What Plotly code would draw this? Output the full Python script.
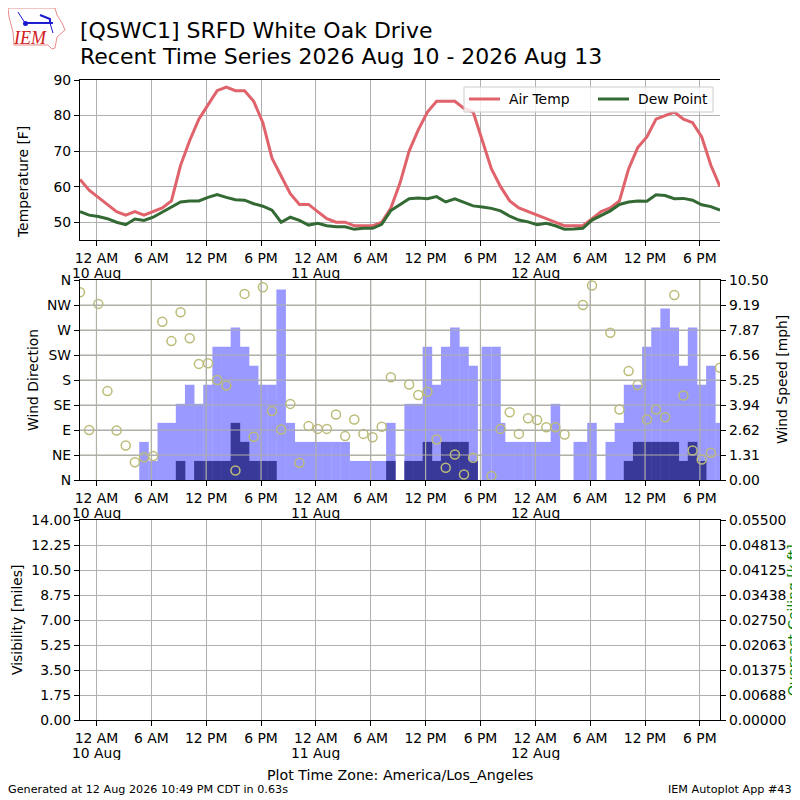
import pandas as pd
import plotly.graph_objects as go

FONT = "DejaVu Sans"
GRID = "#b0b0b0"

# hourly obs, first one is 22:12 on 9 Aug
start = pd.Timestamp("2026-08-09 22:12")
air_temp = [62, 59, 57, 55, 53, 52, 53, 52, 53, 54, 56, 66, 73, 79, 83, 87, 88, 87, 87, 84,
            78, 68, 63, 58, 55, 55, 53, 51, 50, 50, 49, 49, 49, 50, 54, 61, 70, 76, 81, 84,
            84, 84, 82, 81, 73, 65, 60, 56, 54, 53, 52, 51, 50, 49, 49, 49, 51, 53, 54, 56,
            65, 71, 74, 79, 80, 81, 79, 78, 74, 66, 60]
dew_point = [53, 52, 51.6, 51, 50, 49.3, 50.9, 50.5, 51.4, 52.8, 54.2, 55.7, 56, 56, 57, 57.8,
             57, 56.3, 56.2, 55.2, 54.5, 53.4, 50, 51.4, 50.5, 49.2, 49.7, 49, 48.7, 48.7, 48,
             48.3, 48.3, 49.4, 53.3, 54.9, 56.6, 56.8, 56.6, 57.2, 55.7, 56.6, 55.5, 54.6, 54.3,
             53.9, 53.2, 51.7, 50.6, 50.1, 49.3, 49.7, 49, 48, 48.1, 48.3, 50.6, 52, 53.2, 55,
             55.7, 56, 55.9, 57.7, 57.5, 56.6, 56.7, 56.2, 54.9, 54.4, 53.4]

# wind direction, None where the station reported nothing
wind_dir = [338, 90, 317, 160, 89, 62, 32, 41, 43, 285, 250, 302, 255, 209, 210, 180, 170, 17,
            335, 78, 347, 124, 91, 137, 31, 97, 92, 92, 118, 79, 109, 83, 77, 96, 185, None,
            172, 153, 159, 73, 22, 46, 10, 40, None, 7, 92, 122, 83, 111, 108, 95, 95, 82, None,
            315, 350, None, 265, 127, 196, 171, 109, 127, 113, 333, 152, 53, 37, 49, 202]

# gust and speed bars: hours after start, mph
gust_hours = [7, 8, 9, 10, 11, 12, 13, 14, 15, 16, 17, 18, 19, 20, 21, 22, 23, 24, 25, 26, 27, 28,
              29, 30, 31, 32, 33, 34, 36, 37, 38, 39, 40, 41, 42, 43, 44.45, 45.5, 46, 47, 48, 49,
              50, 51, 52, 54.5, 55, 56, 58, 59, 60, 61, 62, 63, 64, 65, 66, 67, 68, 69, 70]
gust_mph = [2, 1, 3, 3, 4, 5, 4, 5, 7, 7, 8, 7, 6, 5, 5, 10, 3, 2, 2, 2, 2, 2,
            2, 1, 1, 1, 1, 3, 4, 4, 7, 5, 7, 8, 7, 6, 7, 7, 3, 2, 2, 2,
            2, 2, 4, 2, 2, 3, 2, 3, 5, 5, 7, 8, 9, 8, 6, 8, 5, 6, 3]
speed_hours = [11, 13, 14, 15, 16, 17, 18, 19, 20, 21, 34, 36, 37, 38, 39, 40, 41, 42, 43,
               60, 61, 62, 63, 64, 65, 66, 67, 68]
speed_mph = [1, 1, 1, 1, 1, 3, 2, 1, 1, 1, 1, 1, 1, 2, 1, 2, 2, 2, 1,
             1, 2, 2, 2, 2, 2, 1, 2, 1]

# no visibility or ceiling reports in this period
visibility = []
ceiling = []

tick_times = pd.date_range("2026-08-10 00:00", periods=12, freq="6h")
tick_labels = ["12 AM", "6 AM", "12 PM", "6 PM", "12 AM", "6 AM", "12 PM", "6 PM", "12 AM", "6 AM", "12 PM", "6 PM"]
day_labels = ["10 Aug", "11 Aug", "12 Aug"]
temp_ticks = [50, 60, 70, 80, 90]
dir_ticks = [0, 45, 90, 135, 180, 225, 270, 315, 360]
dir_labels = ["N", "NE", "E", "SE", "S", "SW", "W", "NW", "N"]
mph_ticks = [0, 1.3125, 2.625, 3.9375, 5.25, 6.5625, 7.875, 9.1875, 10.5]
mph_labels = ["0.00", "1.31", "2.62", "3.94", "5.25", "6.56", "7.87", "9.19", "10.50"]
vis_ticks = [0, 1.75, 3.5, 5.25, 7, 8.75, 10.5, 12.25, 14]
vis_labels = ["0.00", "1.75", "3.50", "5.25", "7.00", "8.75", "10.50", "12.25", "14.00"]
ceil_ticks = [0, 0.006875, 0.01375, 0.020625, 0.0275, 0.034375, 0.04125, 0.048125, 0.055]
ceil_labels = ["0.00000", "0.00688", "0.01375", "0.02063", "0.02750", "0.03438", "0.04125", "0.04813", "0.05500"]

times = pd.date_range(start, periods=len(air_temp), freq="h")
gust_times = [start + pd.Timedelta(hours=h) for h in gust_hours]
speed_times = [start + pd.Timedelta(hours=h) for h in speed_hours]
x_range = [times[0], times[-1]]
bar_ms = 3750000  # a touch over an hour so the bars don't show seams

# the page has an 8px body margin, so the figure is 792 wide and starts at 8
SIZE = 792


def px(x):
    return (x - 8) / SIZE


def py(y):
    return 1 - (y - 8) / SIZE


X_DOM = [px(80), px(720)]
DOM1 = [py(240), py(80)]
DOM2 = [py(480), py(280)]
DOM3 = [py(720), py(520)]

fig = go.Figure()
fig.add_trace(go.Scatter(x=times, y=air_temp, name="Air Temp", mode="lines",
                         line=dict(color="#e0636c", width=3), xaxis="x", yaxis="y"))
fig.add_trace(go.Scatter(x=times, y=dew_point, name="Dew Point", mode="lines",
                         line=dict(color="#336a34", width=3), xaxis="x", yaxis="y"))
fig.add_trace(go.Bar(x=gust_times, y=gust_mph, width=bar_ms, marker=dict(color="#9999ff", line_width=0),
                     xaxis="x2", yaxis="y2"))
fig.add_trace(go.Bar(x=speed_times, y=speed_mph, width=bar_ms, marker=dict(color="#393999", line_width=0),
                     xaxis="x2", yaxis="y2"))
fig.add_trace(go.Scatter(x=times, y=wind_dir, mode="markers", xaxis="x2", yaxis="y4",
                         marker=dict(symbol="circle-open", size=9, color="#bcbc78", line=dict(width=1.5, color="#bcbc78"))))
fig.add_trace(go.Scatter(x=times[:len(visibility)], y=visibility, xaxis="x3", yaxis="y3"))
fig.add_trace(go.Scatter(x=times[:len(ceiling)], y=ceiling, xaxis="x3", yaxis="y5"))


def x_axis(anchor):
    return dict(domain=X_DOM, type="date", range=x_range, anchor=anchor, tickmode="array", tickvals=tick_times,
                ticktext=tick_labels, ticks="outside", ticklen=5, tickcolor="black", showgrid=True,
                gridcolor=GRID, gridwidth=1.2, showline=True, linecolor="black", linewidth=1.2, mirror=True,
                zeroline=False, tickangle=0)


def y_axis(domain, rng, vals, labels, side="left", grid=True, anchor="x"):
    return dict(domain=domain, range=rng, anchor=anchor, side=side, tickmode="array", tickvals=vals,
                ticktext=labels, ticks="outside", ticklen=5, tickcolor="black", showgrid=grid,
                gridcolor=GRID, gridwidth=1.2, showline=True, linecolor="black", linewidth=1.2,
                zeroline=False)


y4 = y_axis(DOM2, [0, 360], dir_ticks, dir_labels, grid=False, anchor="x2")
y4["overlaying"] = "y2"
y5 = y_axis(DOM3, [0, 0.055], ceil_ticks, ceil_labels, side="right", grid=False, anchor="x3")
y5["overlaying"] = "y3"

fig.update_layout(
    width=SIZE, height=SIZE, margin=dict(l=0, r=0, t=0, b=0, autoexpand=False), autosize=False,
    paper_bgcolor="white", plot_bgcolor="white", barmode="overlay",
    font=dict(family=FONT, size=13.9, color="black"),
    xaxis=x_axis("y"), xaxis2=x_axis("y2"), xaxis3=x_axis("y3"),
    yaxis=y_axis(DOM1, [45, 90], temp_ticks, [str(t) for t in temp_ticks]),
    yaxis2=y_axis(DOM2, [0, 10.5], mph_ticks, mph_labels, side="right", anchor="x2"),
    yaxis3=y_axis(DOM3, [0, 14], vis_ticks, vis_labels, anchor="x3"),
    yaxis4=y4, yaxis5=y5,
    showlegend=False,
)

# matplotlib puts the wind panel grid over the bars
for t in tick_times:
    fig.add_shape(type="line", xref="x2", yref="y2", x0=t, x1=t, y0=0, y1=10.5, layer="above",
                  line=dict(color="#b0b0a6", width=1.2))
for v in mph_ticks[1:-1]:
    fig.add_shape(type="line", xref="x2", yref="y2", x0=x_range[0], x1=x_range[1], y0=v, y1=v, layer="above",
                  line=dict(color="#b0b0a6", width=1.2))


def note(text, x, y, size=13.9, color="black", angle=0, xanchor="center", family=FONT):
    fig.add_annotation(text=text, xref="paper", yref="paper", x=px(x), y=py(y), showarrow=False,
                       xanchor=xanchor, yanchor="middle", textangle=angle,
                       font=dict(size=size, color=color, family=family))


note("[QSWC1] SRFD White Oak Drive", 78, 30, size=22, xanchor="left")
note("Recent Time Series 2026 Aug 10 - 2026 Aug 13", 78, 57, size=22, xanchor="left")
note("Temperature [F]", 23, 182, angle=-90)
note("Wind Direction", 33, 380, angle=-90)
note("Wind Speed [mph]", 782, 380, angle=-90)
note("Visibility [miles]", 17, 620, angle=-90)
note("Overcast Ceiling [k ft]", 793, 620, color="green", angle=-90)
note("Plot Time Zone: America/Los_Angeles", 400, 775, size=14.2)
note("Generated at 12 Aug 2026 10:49 PM CDT in 0.63s", 6, 789, size=11.2, xanchor="left")
note("IEM Autoplot App #43", 794, 789, size=11.2, xanchor="right")

# date labels under the midnight ticks, one row per panel
for row_y in [273, 513, 753]:
    for day, label in zip(tick_times[::4], day_labels):
        fig.add_annotation(text=label, xref="x", yref="paper", x=day, y=py(row_y), showarrow=False,
                           xanchor="center", yanchor="middle", height=14, borderpad=0,
                           font=dict(size=13.9, color="black"))

# legend drawn by hand, plotly's own box comes out too tall
fig.add_shape(type="rect", xref="paper", yref="paper", x0=px(464), x1=px(713), y0=py(112), y1=py(87),
              fillcolor="rgba(255,255,255,0.8)", line=dict(color="#cccccc", width=1))
for name, colour, x0, x1, tx in [("Air Temp", "#e0636c", 469, 500, 507), ("Dew Point", "#336a34", 598, 629, 636)]:
    fig.add_shape(type="line", xref="paper", yref="paper", x0=px(x0), x1=px(x1), y0=py(99), y1=py(99),
                  line=dict(color=colour, width=3))
    note(name, tx, 99, xanchor="left")


# IEM logo, hand traced
def path(points, close=False):
    s = "M " + " L ".join(f"{px(a):.4f},{py(b):.4f}" for a, b in points)
    return s + (" Z" if close else "")


iowa = [(8, 8), (55, 8), (57, 15), (62, 23), (65, 30), (57, 37), (55, 48), (52, 49), (48, 45), (14, 45), (13, 32), (9, 17)]
fig.add_shape(type="path", xref="paper", yref="paper", path=path(iowa, True), line=dict(color="#e88a8a", width=1))
for seg, w in [([(25, 23), (53, 23)], 2), ([(25, 23), (18, 12)], 1), ([(40, 15), (50, 19), (50, 23)], 2), ([(50, 23), (53, 33)], 1)]:
    fig.add_shape(type="path", xref="paper", yref="paper", path=path(seg), line=dict(color="#1a1ad0", width=w))
fig.add_shape(type="circle", xref="paper", yref="paper", x0=px(23), x1=px(28), y0=py(26), y1=py(21),
              fillcolor="#1a1ad0", line_width=0)
note("<i>IEM</i>", 30, 38, size=18, color="#d22020", family="Liberation Serif")

fig.write_html("out.html")
